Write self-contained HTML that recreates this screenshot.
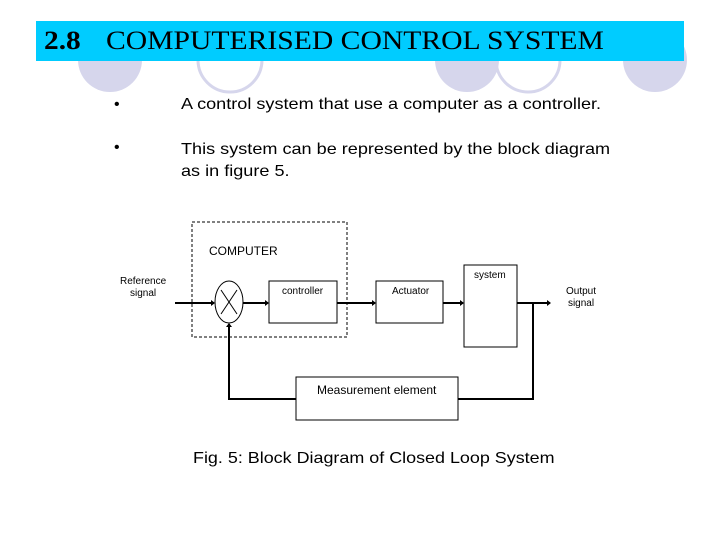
<!DOCTYPE html>
<html><head><style>
body{margin:0;width:720px;height:540px;background:#fff;position:relative;overflow:hidden;font-family:"Liberation Sans",sans-serif}
.t{position:absolute;white-space:nowrap}
.w{transform:scaleX(1.13);transform-origin:0 0}
</style></head><body>
<svg width="720" height="540" style="position:absolute;left:0;top:0">
<circle cx="110" cy="60" r="32" fill="#d6d6ec"/>
<circle cx="230" cy="60" r="32" fill="none" stroke="#d6d6ec" stroke-width="3"/>
<circle cx="467" cy="60" r="32" fill="#d6d6ec"/>
<circle cx="528" cy="60" r="32" fill="none" stroke="#d6d6ec" stroke-width="3"/>
<circle cx="655" cy="60" r="32" fill="#d6d6ec"/>
<rect x="36" y="21" width="648" height="40" fill="#00ccff"/>
<rect x="192" y="222" width="155" height="115" fill="none" stroke="#000" stroke-dasharray="3,2"/>
<ellipse cx="229" cy="302" rx="14" ry="21" fill="#fff" stroke="#000"/>
<line x1="221" y1="290" x2="237" y2="314" stroke="#000"/>
<line x1="237" y1="290" x2="221" y2="314" stroke="#000"/>
<rect x="269" y="281" width="68" height="42" fill="#fff" stroke="#000"/>
<rect x="376" y="281" width="67" height="42" fill="#fff" stroke="#000"/>
<rect x="464" y="265" width="53" height="82" fill="#fff" stroke="#000"/>
<rect x="296" y="377" width="162" height="43" fill="#fff" stroke="#000"/>
<g stroke="#000" stroke-width="2" fill="none">
<line x1="175" y1="303" x2="214" y2="303"/>
<line x1="243" y1="303" x2="268" y2="303"/>
<line x1="337" y1="303" x2="375" y2="303"/>
<line x1="443" y1="303" x2="463" y2="303"/>
<line x1="517" y1="303" x2="550" y2="303"/>
<polyline points="533,303 533,399 458,399"/>
<polyline points="296,399 229,399 229,324"/>
</g>
<g fill="#000">
<polygon points="215,303 211,300 211,306"/>
<polygon points="269,303 265,300 265,306"/>
<polygon points="376,303 372,300 372,306"/>
<polygon points="464,303 460,300 460,306"/>
<polygon points="551,303 547,300 547,306"/>
<polygon points="229,323 226,327 232,327"/>
</g>
</svg>
<div class="t w" style="left:44px;top:26px;font-family:'Liberation Serif',serif;font-weight:bold;font-size:26px">2.8</div>
<div class="t" style="left:106px;top:26px;font-family:'Liberation Serif',serif;font-size:26px;transform:scaleX(1.14);transform-origin:0 0">COMPUTERISED CONTROL SYSTEM</div>
<div class="t" style="left:114px;top:96px;font-size:16px">•</div>
<div class="t w" style="left:181px;top:96px;font-size:16px">A control system that use a computer as a controller.</div>
<div class="t" style="left:114px;top:139px;font-size:16px">•</div>
<div class="t w" style="left:181px;top:139px;font-size:16px;line-height:22px">This system can be represented by the block diagram<br>as in figure 5.</div>
<div class="t" style="left:209px;top:244px;font-size:12px">COMPUTER</div>
<div class="t" style="left:120px;top:276px;font-size:10px;text-align:center;line-height:12px">Reference<br>signal</div>
<div class="t" style="left:282px;top:286px;font-size:10px">controller</div>
<div class="t" style="left:392px;top:286px;font-size:10px">Actuator</div>
<div class="t" style="left:474px;top:270px;font-size:10px">system</div>
<div class="t" style="left:566px;top:286px;font-size:10px;text-align:center;line-height:12px">Output<br>signal</div>
<div class="t" style="left:317px;top:383px;font-size:12px">Measurement element</div>
<div class="t" style="left:193px;top:450px;font-size:16px;transform:scaleX(1.12);transform-origin:0 0">Fig. 5: Block Diagram of Closed Loop System</div>
</body></html>
